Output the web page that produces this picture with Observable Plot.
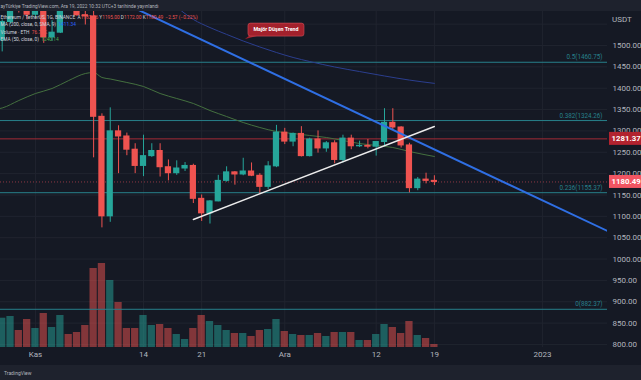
<!DOCTYPE html>
<html><head><meta charset="utf-8">
<script src="https://cdn.jsdelivr.net/npm/d3@7"></script>
<script src="https://cdn.jsdelivr.net/npm/@observablehq/plot@0.6"></script>
<style>
html,body{margin:0;padding:0;background:#151924;}
#chart{position:relative;width:641px;height:380px;overflow:hidden;background:#151924;}
#chart svg{position:absolute;left:0;top:0;}
</style></head><body><div id="chart"></div>
<script>
// ---- daily ETH/USDT candles ----
const dates = ["2022-10-28","2022-10-29","2022-10-30","2022-10-31","2022-11-01","2022-11-02","2022-11-03","2022-11-04","2022-11-05","2022-11-06","2022-11-07","2022-11-08","2022-11-09","2022-11-10","2022-11-11","2022-11-12","2022-11-13","2022-11-14","2022-11-15","2022-11-16","2022-11-17","2022-11-18","2022-11-19","2022-11-20","2022-11-21","2022-11-22","2022-11-23","2022-11-24","2022-11-25","2022-11-26","2022-11-27","2022-11-28","2022-11-29","2022-11-30","2022-12-01","2022-12-02","2022-12-03","2022-12-04","2022-12-05","2022-12-06","2022-12-07","2022-12-08","2022-12-09","2022-12-10","2022-12-11","2022-12-12","2022-12-13","2022-12-14","2022-12-15","2022-12-16","2022-12-17","2022-12-18","2022-12-19"];
const open  = [1512,1555,1619,1589,1572,1579,1519,1530,1645,1627,1571,1568,1333,1100,1299,1287,1256,1218,1241,1253,1215,1201,1212,1218,1141,1107,1135,1183,1203,1198,1205,1195,1169,1217,1296,1275,1293,1241,1280,1259,1271,1232,1282,1264,1265,1263,1274,1319,1308,1266,1166,1186,1183.06];
const high  = [1560,1637,1628,1610,1604,1620,1558,1665,1680,1650,1600,1595,1340,1354,1312,1295,1270,1290,1270,1270,1232,1230,1226,1222,1150,1137,1196,1216,1205,1236,1225,1200,1228,1313,1306,1295,1310,1283,1300,1275,1277,1290,1290,1276,1280,1275,1352,1352,1310,1271,1191,1201,1195];
const low   = [1485,1550,1576,1560,1565,1505,1510,1528,1620,1568,1548,1237,1073,1086,1200,1242,1200,1193,1238,1192,1183,1196,1205,1130,1088,1082,1134,1180,1173,1195,1193,1153,1163,1214,1268,1263,1239,1239,1248,1250,1223,1225,1256,1261,1258,1241,1263,1301,1260,1155,1160,1176,1172];
const close = [1555,1619,1589,1572,1579,1519,1530,1645,1627,1571,1568,1333,1100,1299,1287,1256,1218,1241,1253,1215,1201,1212,1218,1141,1107,1135,1183,1203,1198,1205,1195,1169,1217,1296,1275,1293,1241,1280,1259,1271,1232,1282,1264,1265,1263,1274,1319,1308,1266,1166,1186,1183,1180.49];
// volume, thousand ETH
const volume = [1172,1240,680,1120,760,1360,800,1280,520,600,880,3160,3360,2680,1800,760,760,1280,880,920,760,520,320,760,1280,1040,880,680,560,560,440,680,720,1120,640,520,480,480,560,440,600,600,600,280,280,520,920,800,560,1040,480,360,120];

// ---- moving averages ----
const sma200Dates  = ["2022-11-18","2022-11-20","2022-11-22","2022-11-24","2022-11-26","2022-11-28","2022-11-30","2022-12-02","2022-12-04","2022-12-07","2022-12-10","2022-12-13","2022-12-16","2022-12-19"];
const sma200Values = [1590,1561,1542,1526,1510.5,1496.5,1483.6,1472,1462.5,1449.7,1439,1428.6,1419,1411.34];
const ema50Dates  = ["2022-10-27","2022-10-28","2022-10-30","2022-11-01","2022-11-03","2022-11-05","2022-11-07","2022-11-08","2022-11-09","2022-11-10","2022-11-12","2022-11-14","2022-11-16","2022-11-18","2022-11-20","2022-11-22","2022-11-24","2022-11-26","2022-11-28","2022-11-30","2022-12-02","2022-12-04","2022-12-06","2022-12-08","2022-12-10","2022-12-12","2022-12-14","2022-12-16","2022-12-19"];
const ema50Values = [1350,1353.7,1371.2,1387.6,1399.3,1418,1434.4,1436.8,1425.1,1421.6,1413.4,1404,1387.6,1375.9,1364.2,1347.8,1333.7,1319.7,1308,1298.6,1294,1289.3,1284.6,1277.6,1270.5,1265.9,1261.2,1251.8,1240.14];

// ---- drawings ----
const downTrendDates  = ["2022-11-12","2023-01-10"];
const downTrendPrices = [1596, 1055];
const upTrendDates  = ["2022-11-20","2022-12-19"];
const upTrendPrices = [1092.6, 1310.3];
const fibLevels = ["0","0.236","0.382","0.5"];
const fibPrices = [882.37,1155.37,1324.26,1460.75];
const resistancePrice = 1281.37;
const lastPrice = 1180.49;
const calloutDate = "2022-11-30", calloutPrice = 1536, calloutText = "Majör Düşen Trend";

// ---- axes ----
const xTickDates  = ["2022-11-01","2022-11-14","2022-11-21","2022-12-01","2022-12-12","2022-12-19","2023-01-01"];
const xTickLabels = ["Kas","14","21","Ara","12","19","2023"];
const yTicks = [800,850,900,950,1000,1050,1100,1150,1200,1250,1300,1350,1400,1450,1500];
const yGrid  = [800,850,900,950,1000,1050,1100,1150,1200,1250,1300,1350,1400,1450,1500,1550];

// ---- legend texts ----
const headerText = "ayTürkiye TradingView.com, Ara 19, 2022 10:32 UTC+3 tarihinde yayınlandı";
const symbolText = "Ethereum / TetherUS, 1G, BINANCE";
const ohlcLabels = ["A","Y","D","K"];
const ohlcValues = ["1183.06","1195.00","1172.00","1180.49"];
const changeText = "−2.57 (−0.22%)";
const smaLegend = "MA (200, close, 0, SMA, 9)", smaValue = "1411.34";
const volLegend = "Volume · ETH", volValue = "76.77K";
const emaLegend = "EMA (50, close, 0)", emaValue = "1240.14";

// ---- build tables ----
const UP = "#26a69a", DOWN = "#ef5350";
const candles = dates.map((d, i) => ({date: new Date(d), open: open[i], high: high[i], low: low[i], close: close[i], volume: volume[i], color: close[i] >= open[i] ? UP : DOWN}));
const sma200 = sma200Dates.map((d, i) => ({date: new Date(d), v: sma200Values[i]}));
const ema50 = ema50Dates.map((d, i) => ({date: new Date(d), v: ema50Values[i]}));
const downTrend = downTrendDates.map((d, i) => ({date: new Date(d), v: downTrendPrices[i]}));
const upTrend = upTrendDates.map((d, i) => ({date: new Date(d), v: upTrendPrices[i]}));
const fibs = fibLevels.map((l, i) => ({level: l, price: fibPrices[i]}));
const xTicks = xTickDates.map(d => new Date(d));
const tickLabel = new Map(xTicks.map((d, i) => [+d, xTickLabels[i]]));

const FONT = "Roboto, 'Liberation Sans', sans-serif";
const common = {
  width: 641, height: 380, marginTop: 11, marginBottom: 33, marginLeft: 0, marginRight: 34,
  style: {background: "transparent", fontFamily: FONT, overflow: "visible"}
};
const xScale = {type: "utc", domain: [new Date("2022-10-27T19:05Z"), new Date("2023-01-08T19:55Z")]};
const yPrice = {domain: [792.9, 1579.6]};
const hours = (d, h) => new Date(+d + h * 3600e3);

// layer A: grid
const gridPlot = Plot.plot({
  ...common, x: {...xScale, axis: null}, y: {...yPrice, axis: null},
  marks: [
    Plot.gridX(xTicks, {stroke: "#20242f", strokeOpacity: 1}),
    Plot.gridY(yGrid, {stroke: "#20242f", strokeOpacity: 1})
  ]
});

// layer B: volume
const volPlot = Plot.plot({
  ...common, x: {...xScale, axis: null}, y: {domain: [0, d3.max(volume) * 4], axis: null},
  color: {type: "identity"},
  marks: [
    Plot.rectY(candles, {x1: d => hours(d.date, -10.5), x2: d => hours(d.date, 10.5), y: "volume", fill: "color", fillOpacity: 0.5, clip: true})
  ]
});

// layer C: price
const FIB = "#27808b";
function priceLabels(index, s, v, dim) {
  const g = d3.create("svg:g").attr("font-family", FONT).attr("text-anchor", "start");
  const x0 = dim.width - dim.marginRight + 2;
  [[resistancePrice, "#b2232f"], [lastPrice, "#f25562"]].forEach(([p, c]) => {
    const y = s.y(p);
    g.append("rect").attr("x", x0).attr("y", y - 6.5).attr("width", 40).attr("height", 13).attr("fill", c);
    g.append("text").attr("x", x0 + 2.5).attr("y", y).attr("dy", "0.35em").attr("font-size", 7.8)
      .attr("font-weight", "bold").attr("fill", "#ffffff").text(p.toFixed(2));
  });
  g.append("text").attr("x", x0 + 3).attr("y", 19).attr("dy", "0.35em").attr("font-size", 8).attr("fill", "#b2b5be").text("USDT");
  return g.node();
}
function callout(index, s) {
  const g = d3.create("svg:g").attr("font-family", FONT);
  const cx = s.x(new Date(calloutDate)), cy = s.y(calloutPrice);
  const w = 56, h = 13;
  g.append("path").attr("d", `M${cx - w/2 + 2},${cy + h/2 - 1} L${cx - w/2 - 3},${cy + h/2 + 3} L${cx - w/2 + 9},${cy + h/2}`).attr("fill", "#a3212c");
  g.append("rect").attr("x", cx - w/2).attr("y", cy - h/2).attr("width", w).attr("height", h).attr("rx", 2.5)
    .attr("fill", "#a3212c").attr("stroke", "#d4505a").attr("stroke-width", 0.6);
  g.append("text").attr("x", cx).attr("y", cy).attr("dy", "0.35em").attr("text-anchor", "middle")
    .attr("font-size", 5.3).attr("font-weight", "bold").attr("fill", "#ffffff").text(calloutText);
  return g.node();
}
function overlay(index, s, v, dim) {
  const g = d3.create("svg:g").attr("font-family", FONT).attr("text-anchor", "start").style("white-space", "pre");
  g.append("rect").attr("x", 0).attr("y", 0).attr("width", dim.width).attr("height", 11).attr("fill", "#1e222d");
  g.append("rect").attr("x", 0).attr("y", 365).attr("width", dim.width).attr("height", 15).attr("fill", "#1e222d");
  const GRAY = "#d1d4dc";
  const line = (x, y, parts, size = 4.8) => {
    const t = g.append("text").attr("x", x).attr("y", y).attr("font-size", size);
    parts.forEach(([str, c]) => t.append("tspan").attr("fill", c).text(str));
  };
  line(0.5, 7.7, [[headerText, "#b2b5be"]]);
  const ohlc = [];
  ohlcLabels.forEach((l, i) => { ohlc.push([" " + l, GRAY]); ohlc.push([ohlcValues[i], DOWN]); });
  line(0.5, 18.7, [[symbolText + " ", GRAY], ...ohlc, ["  " + changeText, DOWN]]);
  line(0.5, 26.2, [[smaLegend + "  ", GRAY], [smaValue, "#2962ff"]]);
  line(0.5, 33.7, [[volLegend + "  ", GRAY], [volValue, DOWN]]);
  line(0.5, 40.7, [[emaLegend + "  ", GRAY], [emaValue, "#4caf50"]]);
  line(4, 374.5, [["TradingView", "#b2b5be"]], 5);
  return g.node();
}

const pricePlot = Plot.plot({
  ...common, x: xScale, y: yPrice, color: {type: "identity"},
  marks: [
    Plot.ruleY(fibs, {y: "price", stroke: FIB, strokeWidth: 1}),
    Plot.text(fibs, {y: "price", text: d => `${d.level}(${d.price.toFixed(2)})`, frameAnchor: "right", textAnchor: "end", dx: -5, dy: -5, fill: FIB, fontSize: 6.3}),
    Plot.ruleY([resistancePrice], {stroke: "#a32a35", strokeWidth: 1}),
    Plot.ruleY([lastPrice], {stroke: "#f0505c", strokeOpacity: 0.55, strokeDasharray: "1,2"}),
    Plot.line(sma200, {x: "date", y: "v", stroke: "#2b3e8e", strokeWidth: 1, curve: "monotone-x", clip: true}),
    Plot.line(ema50, {x: "date", y: "v", stroke: "#44703f", strokeWidth: 1, curve: "monotone-x", clip: true}),
    Plot.ruleX(candles, {x: "date", y1: "low", y2: "high", stroke: "color", strokeWidth: 1, clip: true}),
    Plot.rect(candles, {x1: d => hours(d.date, -9), x2: d => hours(d.date, 9), y1: "open", y2: "close", fill: "color", insetTop: -0.5, insetBottom: -0.5, clip: true}),
    Plot.line(downTrend, {x: "date", y: "v", stroke: "#2f6fe4", strokeWidth: 2, clip: true}),
    Plot.line(upTrend, {x: "date", y: "v", stroke: "#ececec", strokeWidth: 1.4, clip: true}),
    callout,
    Plot.axisX(xTicks, {tickSize: 0, tickPadding: 4, fontSize: 8, fill: "#b2b5be", tickFormat: d => tickLabel.get(+d), label: null}),
    Plot.axisY(yTicks, {anchor: "right", tickSize: 0, tickPadding: 5, fontSize: 8, fill: "#b2b5be", tickFormat: d => d.toFixed(2), label: null}),
    priceLabels,
    overlay
  ]
});

const root = document.getElementById("chart");
root.append(gridPlot, volPlot, pricePlot);
</script>
</body></html>
